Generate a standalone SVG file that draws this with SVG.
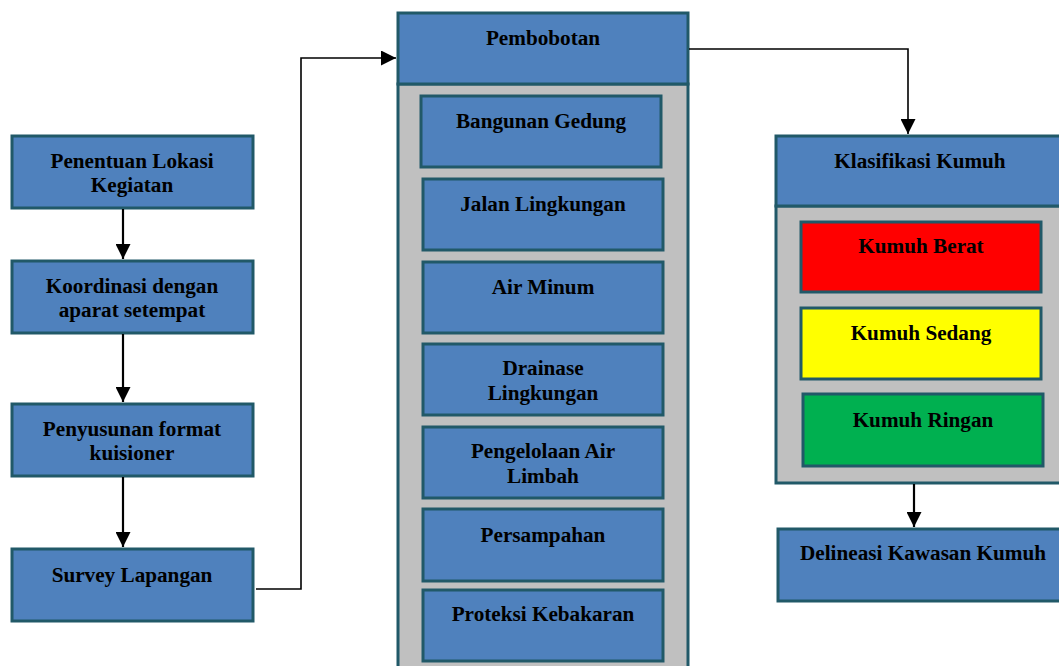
<svg xmlns="http://www.w3.org/2000/svg" width="1059" height="666" viewBox="0 0 1059 666">
<defs>
<style>
.b{fill:#4F81BD;stroke:#215968;stroke-width:3}
.g{fill:#C0C0C0;stroke:#215968;stroke-width:3}
.t{font-family:"Liberation Serif","Times New Roman",serif;font-weight:bold;font-size:21.2px;fill:#000;text-anchor:middle}
.c{fill:none;stroke:#000}
</style>
<marker id="ah2" markerWidth="15" markerHeight="15" refX="15" refY="7.5" orient="auto" markerUnits="userSpaceOnUse" viewBox="0 0 15 15">
<path d="M0,0 L15,7.5 L0,15 z" fill="#000"/>
</marker>
</defs>
<g id="n1"><rect class="b" x="12" y="136" width="241" height="72"/><text class="t" x="132" y="168">Penentuan Lokasi</text><text class="t" x="132" y="192">Kegiatan</text></g>
<g id="n2"><rect class="b" x="12" y="261" width="241" height="72"/><text class="t" x="132" y="293">Koordinasi dengan</text><text class="t" x="132" y="317">aparat setempat</text></g>
<g id="n3"><rect class="b" x="12" y="404" width="241" height="72"/><text class="t" x="132" y="436">Penyusunan format</text><text class="t" x="132" y="460">kuisioner</text></g>
<g id="n4"><rect class="b" x="12" y="549" width="241" height="72"/><text class="t" x="132" y="582">Survey Lapangan</text></g>
<g id="pembobotan">
<rect class="g" x="398" y="84" width="290" height="600"/>
<rect class="b" x="398" y="13" width="290" height="71"/>
<text class="t" x="543" y="45">Pembobotan</text>
</g>
<g id="p1"><rect class="b" x="421" y="96" width="240" height="71"/><text class="t" x="541" y="128">Bangunan Gedung</text></g>
<g id="p2"><rect class="b" x="423" y="179" width="240" height="71"/><text class="t" x="543" y="211">Jalan Lingkungan</text></g>
<g id="p3"><rect class="b" x="423" y="262" width="240" height="71"/><text class="t" x="543" y="294">Air Minum</text></g>
<g id="p4"><rect class="b" x="423" y="344" width="240" height="71"/><text class="t" x="543" y="375">Drainase</text><text class="t" x="543" y="400">Lingkungan</text></g>
<g id="p5"><rect class="b" x="423" y="427" width="240" height="71"/><text class="t" x="543" y="458">Pengelolaan Air</text><text class="t" x="543" y="483">Limbah</text></g>
<g id="p6"><rect class="b" x="423" y="509" width="240" height="72"/><text class="t" x="543" y="542">Persampahan</text></g>
<g id="p7"><rect class="b" x="423" y="590" width="240" height="71"/><text class="t" x="543" y="621">Proteksi Kebakaran</text></g>
<g id="klasifikasi">
<rect class="g" x="776" y="206" width="290" height="277"/>
<rect class="b" x="776" y="136" width="290" height="70"/>
<text class="t" x="920" y="168">Klasifikasi Kumuh</text>
</g>
<g id="k1"><rect x="801" y="222" width="240" height="70" fill="#FF0000" stroke="#215968" stroke-width="3"/><text class="t" x="921" y="253">Kumuh Berat</text></g>
<g id="k2"><rect x="801" y="308" width="240" height="71" fill="#FFFF00" stroke="#215968" stroke-width="3"/><text class="t" x="921" y="340">Kumuh Sedang</text></g>
<g id="k3"><rect x="803" y="394" width="240" height="72" fill="#00B050" stroke="#215968" stroke-width="3"/><text class="t" x="923" y="427">Kumuh Ringan</text></g>
<g id="delineasi"><rect class="b" x="778" y="529" width="290" height="72"/><text class="t" x="923" y="560">Delineasi Kawasan Kumuh</text></g>
<g id="connectors">
<path class="c" stroke-width="2.2" d="M123,209 V259" marker-end="url(#ah2)"/>
<path class="c" stroke-width="2.2" d="M123,334 V402" marker-end="url(#ah2)"/>
<path class="c" stroke-width="2.2" d="M123,477 V547" marker-end="url(#ah2)"/>
<path class="c" stroke-width="1.6" d="M256,589 H301 V58 H396" marker-end="url(#ah2)"/>
<path class="c" stroke-width="1.6" d="M689,49 H908 V134" marker-end="url(#ah2)"/>
<path class="c" stroke-width="2.2" d="M914,484 V527" marker-end="url(#ah2)"/>
</g>
</svg>
